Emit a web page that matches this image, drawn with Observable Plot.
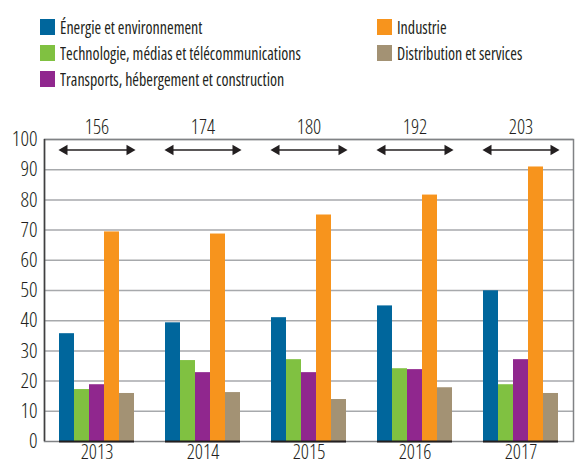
<!DOCTYPE html>
<html>
<head>
<meta charset="utf-8">
<script src="https://cdn.jsdelivr.net/npm/d3@7"></script>
<script src="https://cdn.jsdelivr.net/npm/@observablehq/plot@0.6"></script>
<style>
  html, body { margin: 0; padding: 0; background: #fff; }
  body { width: 576px; height: 464px; overflow: hidden; font-family: "Open Sans", sans-serif; font-stretch: condensed; font-weight: 400; color: #231f20; }
  #wrap { position: relative; width: 576px; height: 464px; }
  #legend { position: absolute; left: 0; top: 0; width: 576px; height: 95px; }
  .item { position: absolute; display: flex; align-items: center; font-size: 18px; white-space: nowrap; line-height: 16px; }
  .sw { width: 15px; height: 16px; margin-right: 5px; flex: none; }
  .lab { display: inline-block; transform: scaleX(0.89); transform-origin: left center; }
  #chart { position: absolute; left: 0; top: 95px; width: 576px; height: 369px; }
  #chart svg { position: absolute; left: 0; top: 0; font-stretch: condensed; font-weight: 350; }
</style>
</head>
<body>
<div id="wrap">
  <div id="legend"></div>
  <div id="chart"></div>
</div>
<script>
const years = ["2013", "2014", "2015", "2016", "2017"];
const categories = [
  "Énergie et environnement",
  "Technologie, médias et télécommunications",
  "Transports, hébergement et construction",
  "Industrie",
  "Distribution et services"
];
const colors = ["#00669c", "#80c141", "#90278e", "#f7941d", "#a39274"];
const energie = [35.7, 39.3, 41.0, 44.9, 49.9];
const technologie = [17.2, 26.8, 27.1, 24.1, 18.8];
const transports = [18.8, 22.8, 22.8, 23.8, 27.1];
const industrie = [69.4, 68.7, 75.0, 81.6, 90.9];
const distribution = [15.9, 16.2, 13.9, 17.8, 15.9];
const totals = [156, 174, 180, 192, 203];
const yTicks = [0, 10, 20, 30, 40, 50, 60, 70, 80, 90, 100];
const arrowLevel = 96.5;

const seriesValues = [energie, technologie, transports, industrie, distribution];
const data = [];
years.forEach((yr, i) => {
  categories.forEach((c, j) => {
    data.push({year: yr, category: c, value: seriesValues[j][i]});
  });
});
const totalData = years.map((yr, i) => ({year: yr, total: totals[i]}));

const legend = document.getElementById("legend");
const legendPos = [
  {left: 40, top: 19}, {left: 40, top: 45}, {left: 40, top: 71},
  {left: 377, top: 19}, {left: 377, top: 45}
];
categories.forEach((c, j) => {
  const d = document.createElement("div");
  d.className = "item";
  d.style.left = legendPos[j].left + "px";
  d.style.top = legendPos[j].top + "px";
  d.innerHTML = `<span class="sw" style="background:${colors[j]}"></span><span class="lab">${c}</span>`;
  legend.appendChild(d);
});

const W = 576, H = 369;
const margins = {marginTop: 44, marginBottom: 23, marginLeft: 44, marginRight: 3};
const font = "Open Sans, sans-serif";

const bg = Plot.plot({
  width: W, height: H, ...margins,
  style: {fontFamily: font, fontSize: "21px", color: "#231f20", background: "transparent"},
  x: {domain: [0, 1], axis: null},
  y: {domain: [0, 100], ticks: yTicks, tickSize: 0, tickPadding: 7, label: null},
  marks: [
    Plot.ruleY(yTicks.slice(1), {stroke: "#a7a9ac", strokeWidth: 1.5}),
    Plot.frame({stroke: "#808285", strokeWidth: 1.5}),
    Plot.ruleX([0], {stroke: "#404041", strokeWidth: 1.5}),
  ]
});

const fg = Plot.plot({
  width: W, height: H, ...margins,
  style: {fontFamily: font, fontSize: "20px", color: "#231f20", background: "transparent"},
  fx: {domain: years, paddingInner: 0.29, paddingOuter: 0.12, tickSize: 0, tickPadding: 3, label: null, axis: "bottom"},
  x: {domain: categories, padding: 0, axis: null},
  y: {domain: [0, 100], axis: null},
  color: {domain: categories, range: colors},
  marks: [
    Plot.barY(data, {fx: "year", x: "category", y: "value", fill: "category"}),
    Plot.ruleY([0], {stroke: "#231f20", strokeWidth: 2}),
    Plot.ruleY([arrowLevel], {stroke: "#231f20", strokeWidth: 1.5, insetLeft: 4, insetRight: 4}),
    Plot.dot([arrowLevel], {y: d => d, frameAnchor: "left", symbol: "triangle2", rotate: -90, r: 5, fill: "#231f20", stroke: null, dx: 5}),
    Plot.dot([arrowLevel], {y: d => d, frameAnchor: "right", symbol: "triangle2", rotate: 90, r: 5, fill: "#231f20", stroke: null, dx: -5}),
    Plot.text(totalData, {fx: "year", text: "total", frameAnchor: "top", dy: -20, fill: "#231f20"})
  ]
});

const chart = document.getElementById("chart");
chart.appendChild(bg);
chart.appendChild(fg);
</script>
</body>
</html>
